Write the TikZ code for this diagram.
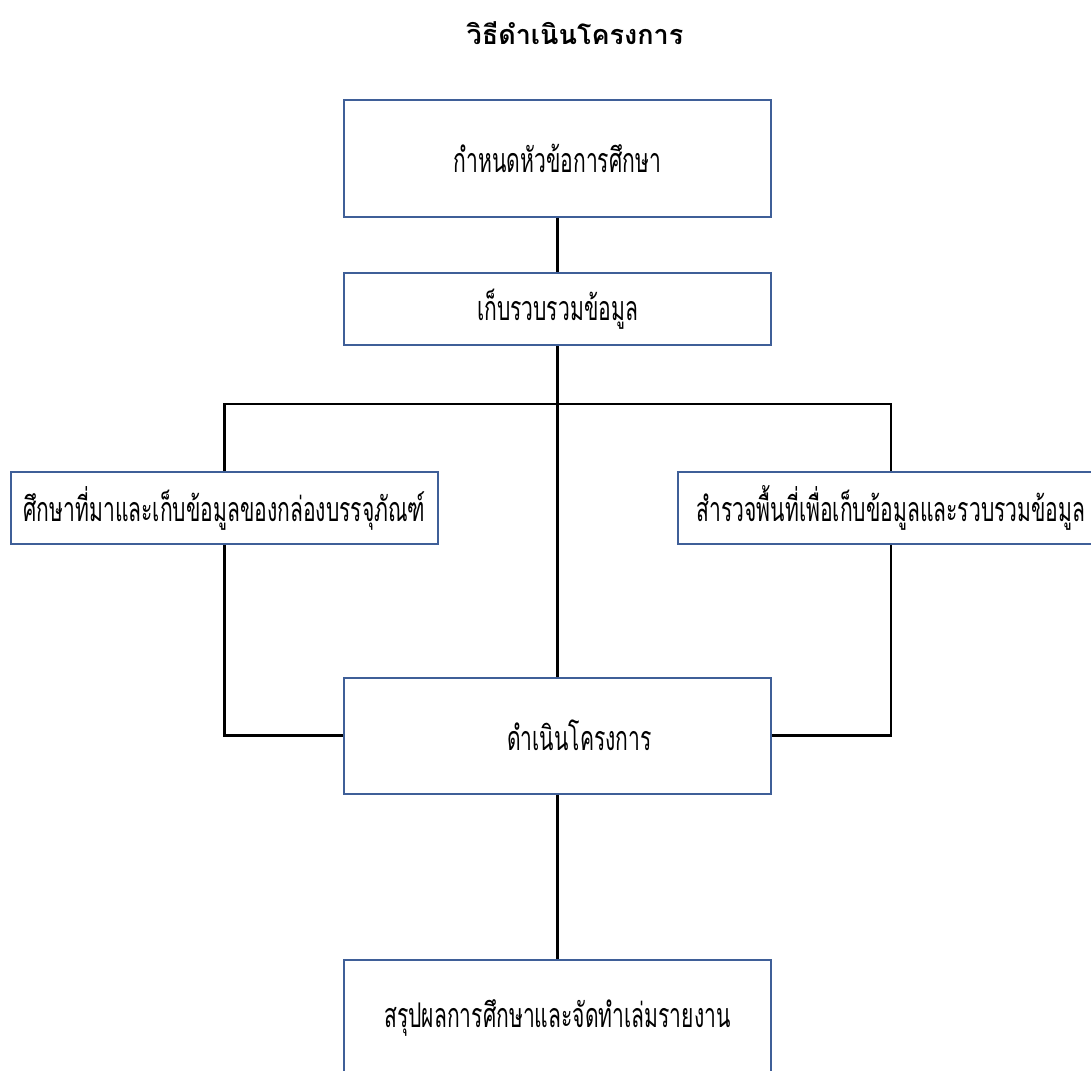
\documentclass[tikz,border=0pt]{standalone}
\usepackage{fontspec}
\newfontfamily\thaifont[Script=Thai]{Loma}
\newfontfamily\thaibody[Script=Thai,FakeStretch=0.62]{Loma}
\definecolor{boxblue}{HTML}{3F5F98}
\begin{document}
\begin{tikzpicture}[x=0.5pt,y=-0.5pt,
  stepbox/.style={draw=boxblue,line width=1pt,fill=white,inner sep=0pt,
    minimum width=213.5pt,font=\thaibody\fontsize{17}{20}\selectfont},
  tall/.style={stepbox,minimum height=58pt},
  short/.style={stepbox,minimum height=36pt},
  conn/.style={draw=black,line width=1.25pt}]
\useasboundingbox (0,0) rectangle (1091,1070);
\node[font=\thaifont\bfseries\fontsize{13.5}{16}\selectfont] (title) at (575,33) {วิธีดำเนินโครงการ};
\node[tall] (b1) at (557.5,158.5) {กำหนดหัวข้อการศึกษา};
\node[short] (b2) at (557.5,309) {เก็บรวบรวมข้อมูล};
\node[short] (L) at (224.5,508) {ศึกษาที่มาและเก็บข้อมูลของกล่องบรรจุภัณฑ์\hspace{7pt}};
\node[short] (R) at (891,508) {สำรวจพื้นที่เพื่อเก็บข้อมูลและรวบรวมข้อมูล};
\node[tall] (b5) at (557.5,735.5) {\hspace{22pt}ดำเนินโครงการ};
\node[tall] (b6) at (557.5,1017.5) {\raisebox{2.5pt}{สรุปผลการศึกษาและจัดทำเล่มรายงาน}};
\coordinate (j) at (557.5,404);
\draw[conn] (b1) -- (b2);
\draw[conn] (b2) -- (b5);
\draw[conn] (L.north) |- (j) -| (R.north);
\draw[conn] (L.south) |- (b5.west);
\draw[conn] (R.south) |- (b5.east);
\draw[conn] (b5) -- (b6);
\end{tikzpicture}
\end{document}
